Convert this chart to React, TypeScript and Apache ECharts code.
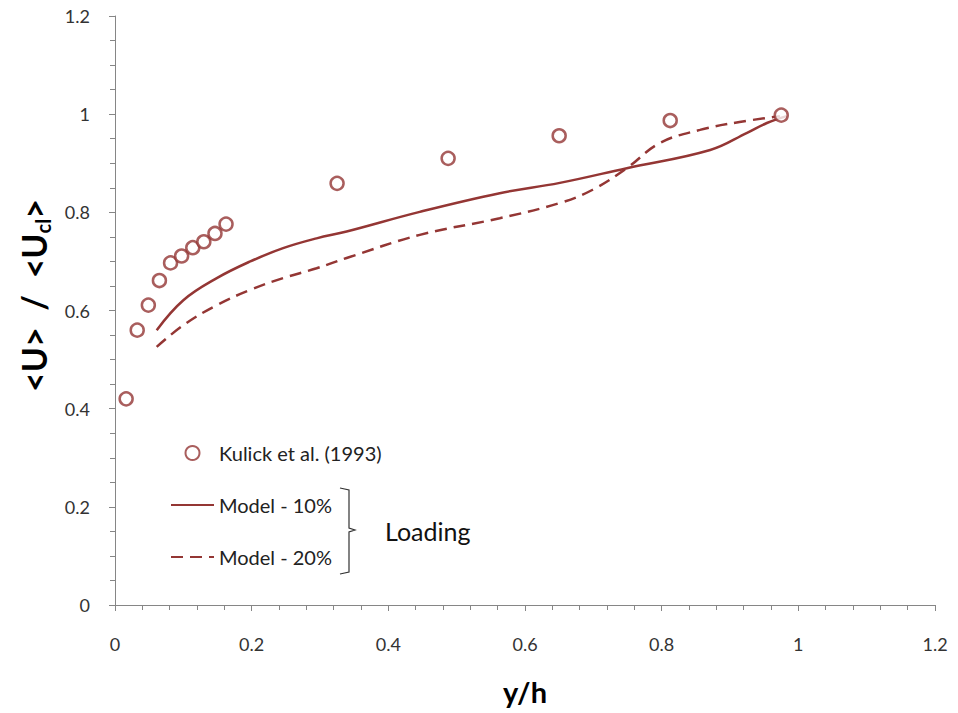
import React, { useEffect, useRef } from "react";
import * as echarts from "echarts";

const kulickX = [0.0163, 0.0325, 0.0488, 0.065, 0.0813, 0.0975, 0.1138, 0.13, 0.1463, 0.1625, 0.325, 0.4875, 0.65, 0.8125, 0.975];
const kulickY = [0.42, 0.56, 0.611, 0.661, 0.697, 0.711, 0.728, 0.74, 0.757, 0.776, 0.859, 0.91, 0.956, 0.987, 0.998];

const model10X = [0.061, 0.1, 0.149, 0.198, 0.246, 0.295, 0.339, 0.446, 0.563, 0.651, 0.749, 0.871, 0.925, 0.954, 0.983];
const model10Y = [0.56, 0.621, 0.666, 0.7, 0.727, 0.747, 0.761, 0.801, 0.839, 0.86, 0.89, 0.927, 0.962, 0.982, 0.996];

const model20X = [0.061, 0.1, 0.149, 0.198, 0.246, 0.295, 0.339, 0.446, 0.563, 0.651, 0.699, 0.749, 0.797, 0.856, 0.914, 0.973];
const model20Y = [0.526, 0.57, 0.611, 0.642, 0.666, 0.686, 0.707, 0.754, 0.788, 0.819, 0.846, 0.89, 0.941, 0.968, 0.984, 0.996];

const seriesNames = ["Kulick et al. (1993)", "Model - 10%", "Model - 20%"];
const bracketLabel = "Loading";

const RED = "#943634";
const FONT = "Lato, 'Open Sans', sans-serif";

const zip = (xs: number[], ys: number[]) => xs.map((x, i) => [x, ys[i]]);

export default function App() {
  const ref = useRef<HTMLDivElement>(null);
  useEffect(() => {
    if (!ref.current) return;
    const chart = echarts.init(ref.current, null, { renderer: "svg" });
    chart.setOption({
      animation: false,
      backgroundColor: "#ffffff",
      grid: { left: 115, right: 23, top: 16, bottom: 108, containLabel: false },
      xAxis: {
        type: "value",
        min: 0,
        max: 1.2,
        interval: 0.2,
        name: "y/h",
        nameLocation: "middle",
        nameGap: 72,
        nameTextStyle: { fontFamily: FONT, fontWeight: "bold", fontSize: 29, color: "#000" },
        axisLine: { lineStyle: { color: "#868686", width: 1 } },
        axisTick: { show: true, length: 6, lineStyle: { color: "#868686" } },
        minorTick: { show: true, splitNumber: 5, length: 5, lineStyle: { color: "#868686" } },
        splitLine: { show: false },
        axisLabel: {
          fontFamily: FONT,
          fontSize: 18,
          color: "#333",
          margin: 30,
          formatter: (v: number) => String(Math.round(v * 10) / 10),
        },
      },
      yAxis: {
        type: "value",
        min: 0,
        max: 1.2,
        interval: 0.2,
        name: "{a|<U>  /  <U}{s|cl}{a|>}",
        nameLocation: "middle",
        nameRotate: 90,
        nameGap: 62,
        nameTextStyle: {
          padding: [0, 0, 0, 30],
          rich: {
            a: { fontFamily: FONT, fontWeight: "bold", fontSize: 34, color: "#000", lineHeight: 40, verticalAlign: "middle" },
            s: { fontFamily: FONT, fontWeight: "bold", fontSize: 20, color: "#000", lineHeight: 40, verticalAlign: "bottom", padding: [15, 0, 0, 0] },
          },
        },
        axisLine: { show: true, lineStyle: { color: "#868686", width: 1 } },
        axisTick: { show: true, length: 6, lineStyle: { color: "#868686" } },
        minorTick: { show: true, splitNumber: 4, length: 5, lineStyle: { color: "#868686" } },
        splitLine: { show: false },
        axisLabel: {
          fontFamily: FONT,
          fontSize: 18,
          color: "#333",
          margin: 25,
          formatter: (v: number) => String(Math.round(v * 10) / 10),
        },
      },
      legend: {
        orient: "vertical",
        left: 170,
        top: 443,
        padding: 0,
        itemWidth: 43,
        itemHeight: 14,
        itemGap: 32,
        data: [
          { name: seriesNames[0] },
          { name: seriesNames[1], itemStyle: { opacity: 0 } },
          { name: seriesNames[2], itemStyle: { opacity: 0 } },
        ],
        textStyle: { fontFamily: FONT, fontSize: 20, color: "#222" },
      },
      series: [
        {
          name: seriesNames[0],
          type: "scatter",
          data: zip(kulickX, kulickY),
          symbol: "circle",
          symbolSize: 13,
          itemStyle: { color: "#ffffff", borderColor: RED, borderWidth: 2.5 },
          z: 5,
        },
        {
          name: seriesNames[1],
          type: "line",
          data: zip(model10X, model10Y),
          smooth: 0.4,
          showSymbol: false,
          symbol: "none",
          lineStyle: { color: RED, width: 2.5, type: "solid" },
          itemStyle: { color: RED },
        },
        {
          name: seriesNames[2],
          type: "line",
          data: zip(model20X, model20Y),
          smooth: 0.4,
          showSymbol: false,
          symbol: "none",
          lineStyle: { color: RED, width: 2.5, type: [12, 7] },
          itemStyle: { color: RED },
        },
      ],
      graphic: [
        {
          type: "polyline",
          shape: { points: [[340, 488], [349, 490], [349, 528], [355, 530], [349, 532], [349, 572], [340, 574]] },
          style: { stroke: "#333", lineWidth: 1.2, fill: "none" },
        },
        {
          type: "text",
          x: 385,
          y: 531,
          style: { text: bracketLabel, fontFamily: FONT, fontSize: 25, fill: "#111", verticalAlign: "middle" },
        },
      ],
    });
    return () => chart.dispose();
  }, []);
  return <div ref={ref} style={{ position: "absolute", left: 0, top: 0, width: 958, height: 713 }} />;
}
